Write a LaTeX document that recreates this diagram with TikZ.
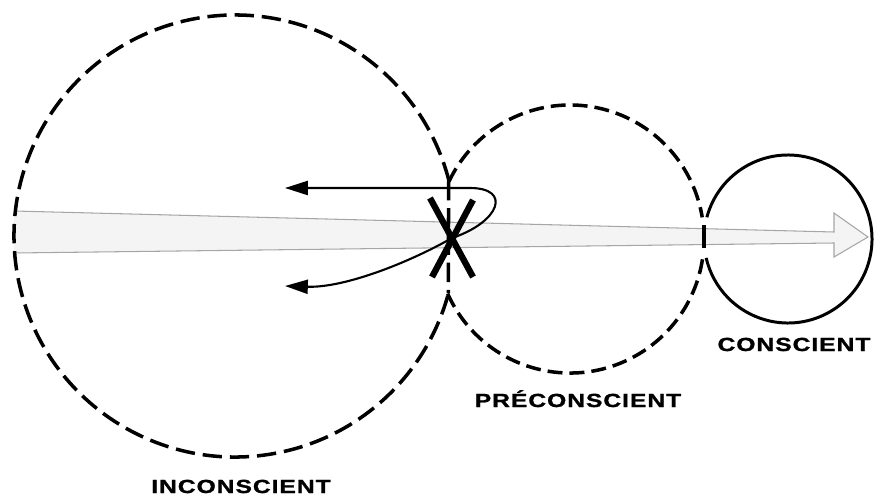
\documentclass[tikz,border=0pt]{standalone}
\usepackage{fontspec}
\newfontfamily\labfont[FakeStretch=1.3,LetterSpace=5,BoldFeatures={FakeBold=1.2}]{Liberation Sans}
\usetikzlibrary{arrows.meta}
\begin{document}
\begin{tikzpicture}[x=0.02cm,y=0.02cm,
  bigdash/.style={line width=2pt,dash pattern=on 11pt off 4.5pt},
  middash/.style={line width=2pt,dash pattern=on 8.5pt off 4pt},
  solidc/.style={line width=1.7pt},
  shaftfill/.style={fill=gray!9},
  shaftline/.style={draw=gray!70,line width=0.6pt},
  flow/.style={line width=1.2pt,{Triangle[length=13pt,width=8pt]}-{Triangle[length=13pt,width=8pt]}},
  xmark/.style={line width=3.6pt},
  lab/.style={font=\labfont\bfseries\fontsize{10.8}{13}\selectfont,inner sep=0pt,anchor=base}]
\useasboundingbox (0,0) rectangle (875,-497);
% centres
\coordinate (c1) at (235,-236);
\coordinate (c2) at (570,-239);
\coordinate (c3) at (788,-239);
\coordinate (P) at (448.6,-181);
\coordinate (Q) at (448.3,-293);
% broad arrow (shaft + head)
\fill[shaftfill] (14,-211) -- (834,-232) -- (834,-213) -- (868,-237) -- (834,-257) -- (834,-243) -- (14,-253) -- cycle;
\draw[shaftline] (14,-211) -- (834,-232) -- (834,-213) -- (868,-237) -- (834,-257) -- (834,-243) -- (14,-253);
% inconscient
\draw[bigdash] (c1) ++(14.5:221) arc[start angle=14.5,end angle=345.1,radius=221];
% preconscient
\draw[middash] (c2) ++(154.6:134) arc[start angle=154.6,end angle=9.3,radius=134];
\draw[middash] (c2) ++(204.05:134) arc[start angle=204.05,end angle=351.6,radius=134];
% boundary between inconscient and preconscient
\draw[bigdash] (P) -- (Q);
% conscient
\draw[solidc] (c3) ++(165:84) arc[start angle=165,end angle=-167,radius=84];
\coordinate (m1) at (704,-225);
\coordinate (m2) at (704,-248);
\draw[line width=2.3pt] (m1) -- (m2);
% censorship X
\coordinate (x1) at (430,-198);
\coordinate (x2) at (473,-277);
\coordinate (x3) at (473,-200);
\coordinate (x4) at (432,-277);
\draw[xmark] (x1) -- (x2);
\draw[xmark] (x3) -- (x4);
% repelled flow
\coordinate (t1) at (285,-188);
\coordinate (k1) at (470,-188);
\coordinate (xc) at (452,-238);
\coordinate (t2) at (285,-286);
\draw[flow] (t1) -- (k1) .. controls (512,-188) and (500,-222) .. (xc) .. controls (410,-262) and (345,-288) .. (t2);
% labels
\node[lab] (lc) at (794,-351) {CONSCIENT};
\node[lab] (lp) at (578,-407) {PRÉCONSCIENT};
\node[lab] (li) at (241,-493) {INCONSCIENT};
\end{tikzpicture}
\end{document}
